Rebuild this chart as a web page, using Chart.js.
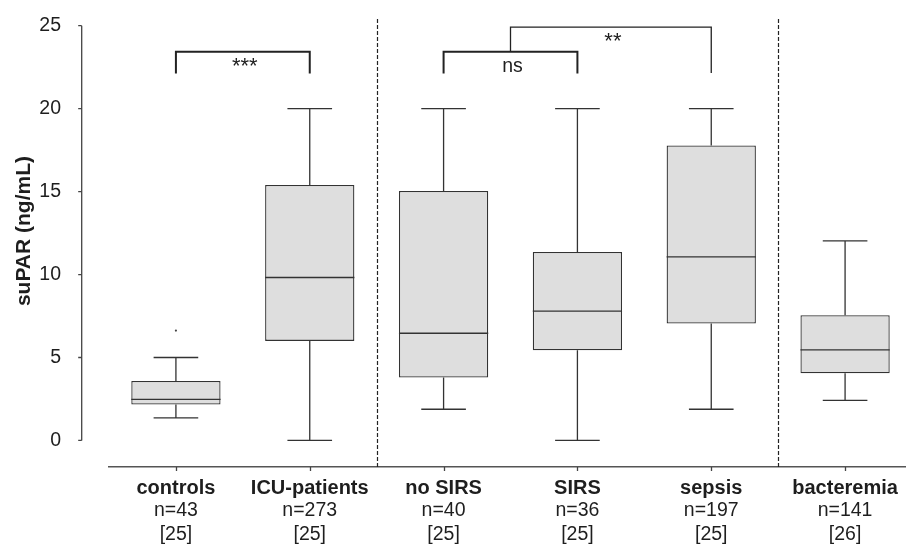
<!DOCTYPE html>
<html>
<head>
<meta charset="utf-8">
<script src="https://cdn.jsdelivr.net/npm/chart.js@4/dist/chart.umd.min.js"></script>
<style>
  html, body { margin: 0; padding: 0; background: #fff; overflow: hidden; }
  #wrap { position: relative; width: 916px; height: 548px; }
</style>
</head>
<body>
<div id="wrap"><canvas id="c"></canvas></div>
<script>
// suPAR concentrations per patient group (ng/mL)
const categories  = ['controls', 'ICU-patients', 'no SIRS', 'SIRS', 'sepsis', 'bacteremia'];
const sampleSizes = ['n=43', 'n=273', 'n=40', 'n=36', 'n=197', 'n=141'];
const references  = ['[25]', '[25]', '[25]', '[25]', '[25]', '[26]'];

const whiskerLow  = [1.36, 0,     1.88,  0,     1.88,  2.42];
const quartile1   = [2.16, 6.0,   3.79,  5.44,  7.05,  4.05];
const medians     = [2.47, 9.82,  6.46,  7.79,  11.06, 5.46];
const quartile3   = [3.59, 15.40, 15.04, 11.36, 17.78, 7.55];
const whiskerHigh = [5.0,  20,    20,    20,    20,    12.03];
const outliers    = [6.62, null,  null,  null,  null,  null];

const yTicks = [0, 5, 10, 15, 20, 25];

// group separators sit between categories
const dividers = [1.5, 4.5];

// significance brackets: category index span, bracket level and leg ends (ng/mL)
const brackets = [
  { from: 0,   to: 1, top: 23.42, legFrom: 22.12, legTo: 22.12, label: '***', width: 2 },
  { from: 2,   to: 3, top: 23.42, legFrom: 22.12, legTo: 22.12, label: 'ns',  width: 2 },
  { from: 2.5, to: 4, top: 24.91, legFrom: 23.42, legTo: 22.15, label: '**',  width: 1.3 }
];

const FONT = '"Liberation Sans", Arial, Helvetica, sans-serif';
const INK = '#1e1e1e';
const LINE = '#333';

const boxPlotPlugin = {
  id: 'boxPlotParts',
  afterDatasetsDraw(chart) {
    const ctx = chart.ctx;
    const y = chart.scales.y;
    const meta = chart.getDatasetMeta(0);
    ctx.save();
    ctx.strokeStyle = LINE;
    ctx.lineWidth = 1.3;
    meta.data.forEach((bar, i) => {
      const x = bar.x, w = bar.width;
      const yMed = y.getPixelForValue(medians[i]);
      const yQ1 = y.getPixelForValue(quartile1[i]);
      const yQ3 = y.getPixelForValue(quartile3[i]);
      const yLo = y.getPixelForValue(whiskerLow[i]);
      const yHi = y.getPixelForValue(whiskerHigh[i]);
      ctx.beginPath();
      // median
      ctx.moveTo(x - w / 2, yMed); ctx.lineTo(x + w / 2, yMed);
      // upper whisker and cap
      ctx.moveTo(x, yQ3); ctx.lineTo(x, yHi);
      ctx.moveTo(x - w / 4, yHi); ctx.lineTo(x + w / 4, yHi);
      // lower whisker and cap
      ctx.moveTo(x, yQ1); ctx.lineTo(x, yLo);
      ctx.moveTo(x - w / 4, yLo); ctx.lineTo(x + w / 4, yLo);
      ctx.stroke();
    });
    ctx.restore();
  },
  afterDraw(chart) {
    const ctx = chart.ctx;
    const xs = chart.scales.x;
    const ys = chart.scales.y;
    const area = chart.chartArea;
    ctx.save();

    // detached y axis line with outward ticks
    const axisX = 81.7;
    ctx.strokeStyle = '#444';
    ctx.lineWidth = 1.3;
    ctx.beginPath();
    ctx.moveTo(axisX, ys.getPixelForValue(yTicks[0]));
    ctx.lineTo(axisX, ys.getPixelForValue(yTicks[yTicks.length - 1]));
    yTicks.forEach(v => {
      const py = ys.getPixelForValue(v);
      ctx.moveTo(axisX - 3.5, py); ctx.lineTo(axisX, py);
    });
    // category tick marks below the x axis
    categories.forEach((_, i) => {
      const px = Math.round(xs.getPixelForValue(i)) + 0.5;
      ctx.moveTo(px, area.bottom); ctx.lineTo(px, area.bottom + 4);
    });
    ctx.stroke();

    // y axis title, centred on the 0-25 tick span
    ctx.save();
    const midY = (ys.getPixelForValue(yTicks[0]) + ys.getPixelForValue(yTicks[yTicks.length - 1])) / 2;
    ctx.translate(24, midY - 2);
    ctx.rotate(-Math.PI / 2);
    ctx.fillStyle = INK;
    ctx.font = 'bold 21px ' + FONT;
    ctx.textAlign = 'center';
    ctx.textBaseline = 'middle';
    ctx.fillText('suPAR (ng/mL)', 0, 0);
    ctx.restore();

    // dashed group separators
    ctx.strokeStyle = '#222';
    ctx.lineWidth = 1.2;
    ctx.setLineDash([4, 2]);
    dividers.forEach(d => {
      const px = Math.round(xs.getPixelForValue(d)) + 0.5;
      ctx.beginPath();
      ctx.moveTo(px, area.top);
      ctx.lineTo(px, area.bottom);
      ctx.stroke();
    });
    ctx.setLineDash([]);

    // significance brackets
    ctx.strokeStyle = '#222';
    brackets.forEach(b => {
      const x1 = xs.getPixelForValue(b.from);
      const x2 = xs.getPixelForValue(b.to);
      const yt = ys.getPixelForValue(b.top);
      ctx.lineWidth = b.width;
      ctx.beginPath();
      ctx.moveTo(x1, ys.getPixelForValue(b.legFrom));
      ctx.lineTo(x1, yt);
      ctx.lineTo(x2, yt);
      ctx.lineTo(x2, ys.getPixelForValue(b.legTo));
      ctx.stroke();
      ctx.fillStyle = INK;
      ctx.textAlign = 'center';
      ctx.textBaseline = 'alphabetic';
      const stars = b.label.indexOf('*') >= 0;
      ctx.font = (stars ? '22px ' : '19.5px ') + FONT;
      const ty = stars ? yt + 21 : yt + 20;
      ctx.fillText(b.label, (x1 + x2) / 2 + 2, ty);
    });

    // category labels: bold name, sample size, reference
    ctx.fillStyle = INK;
    ctx.textAlign = 'center';
    ctx.textBaseline = 'middle';
    categories.forEach((name, i) => {
      const px = xs.getPixelForValue(i);
      ctx.font = 'bold 20px ' + FONT;
      ctx.fillText(name, px, 488);
      ctx.font = '19.5px ' + FONT;
      ctx.fillText(sampleSizes[i], px, 511);
      ctx.fillText(references[i], px, 535);
    });
    ctx.restore();
  }
};

new Chart(document.getElementById('c'), {
  type: 'bar',
  data: {
    labels: categories,
    datasets: [
      {
        label: 'IQR',
        data: quartile1.map((q, i) => [q, quartile3[i]]),
        backgroundColor: '#dedede',
        borderColor: LINE,
        borderWidth: 1.3,
        borderSkipped: false,
        barPercentage: 0.667,
        categoryPercentage: 1
      },
      {
        type: 'line',
        label: 'outliers',
        data: outliers,
        showLine: false,
        pointRadius: 1.1,
        pointBackgroundColor: '#444',
        pointBorderWidth: 0
      }
    ]
  },
  options: {
    responsive: true,
    maintainAspectRatio: false,
    animation: false,
    events: [],
    layout: { padding: { top: 19, right: 0, bottom: 0, left: 0 } },
    plugins: { legend: { display: false }, tooltip: { enabled: false } },
    scales: {
      x: {
        type: 'category',
        offset: true,
        grid: { display: false },
        border: { display: true, color: '#555', width: 1.5 },
        ticks: { display: false },
        afterFit(scale) { scale.height = 81; }
      },
      y: {
        min: -1.6,
        max: 25.4,
        grid: { display: false },
        border: { display: false },
        afterBuildTicks(scale) { scale.ticks = yTicks.map(v => ({ value: v })); },
        ticks: {
          font: { family: FONT, size: 19.5 },
          color: INK,
          padding: 40,
          callback: v => String(v)
        },
        afterFit(scale) {
          scale.width = 109;
          scale.paddingTop = 0;
          scale.paddingBottom = 0;
        }
      }
    }
  },
  plugins: [boxPlotPlugin]
});
</script>
</body>
</html>
